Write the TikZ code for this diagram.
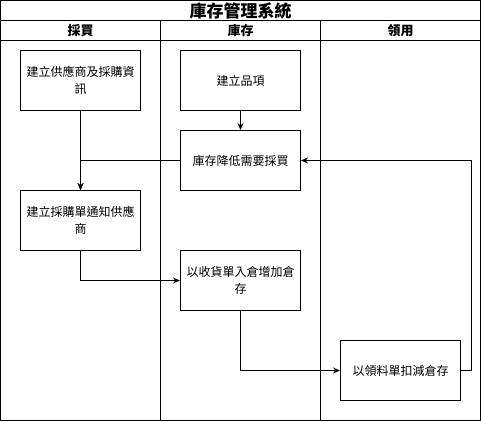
\documentclass[tikz,border=0pt]{standalone}
\usepackage{fontspec}
\newfontfamily\cjk{Noto Sans CJK TC}
\usetikzlibrary{positioning,arrows.meta}

\begin{document}
\begin{tikzpicture}[x=1pt, y=1pt,
  box/.style={draw, line width=1pt, minimum width=120pt, minimum height=60pt, align=center, inner sep=2pt, font=\cjk\fontsize{12}{17}\selectfont},
  lane/.style={draw, line width=1pt, minimum width=160pt, minimum height=380pt, inner sep=0pt},
  head/.style={draw, line width=1pt, minimum width=160pt, minimum height=20pt, inner sep=0pt, font=\cjk\bfseries\fontsize{13}{15}\selectfont},
  flow/.style={line width=1pt, -{Stealth[length=7pt,width=6pt]}}]
\useasboundingbox (-0.5,0.5) rectangle (480.5,-420.5);
% frame, title and lanes
\node[draw, line width=1pt, minimum width=480pt, minimum height=20pt, inner sep=0pt,
  font=\cjk\bfseries\fontsize{17}{19}\selectfont] (title) at (240,-10) {庫存管理系統};
\node[head] (buyhead) at (80,-30) {採買};
\node[head] (stockhead) at (240,-30) {庫存};
\node[head] (usehead) at (400,-30) {領用};
\node[lane] (buylane) at (80,-230) {};
\node[lane] (stocklane) at (240,-230) {};
\node[lane] (uselane) at (400,-230) {};
% steps
\node[box] (supplier) at (80,-80) {建立供應商及採購資\\訊};
\node[box] (item) at (240,-80) {建立品項};
\node[box] (low) at (240,-160) {庫存降低需要採買};
\node[box] (order) at (80,-220) {建立採購單通知供應\\商};
\node[box] (receive) at (240,-280) {以收貨單入倉增加倉\\存};
\node[box] (issue) at (400,-370) {以領料單扣減倉存};
\coordinate (turn) at ([xshift=10pt]issue.east);
% flow
\draw[flow] (supplier) -- (order);
\draw[flow] (item) -- (low);
\draw[flow] (low.west) -| (order.north);
\draw[flow] (order.south) |- (receive.west);
\draw[flow] (receive.south) |- (issue.west);
\draw[flow] (issue.east) -- (turn) |- (low.east);
\end{tikzpicture}
\end{document}
